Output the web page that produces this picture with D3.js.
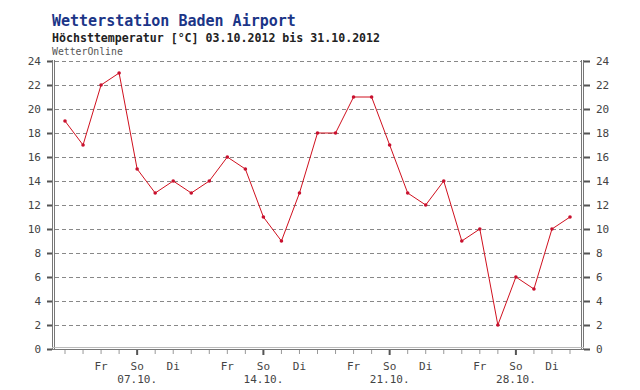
<!DOCTYPE html>
<html><head><meta charset="utf-8">
<script src="https://cdn.jsdelivr.net/npm/d3@7"></script>
<style>body{margin:0;background:#fff}svg{display:block}</style>
</head><body>
<svg id="c" width="640" height="390"></svg>
<script>
const days = ["03.10.","04.10.","05.10.","06.10.","07.10.","08.10.","09.10.","10.10.","11.10.","12.10.","13.10.","14.10.","15.10.","16.10.","17.10.","18.10.","19.10.","20.10.","21.10.","22.10.","23.10.","24.10.","25.10.","26.10.","27.10.","28.10.","29.10.","30.10.","31.10."];
const weekdays = ["Mi","Do","Fr","Sa","So","Mo","Di","Mi","Do","Fr","Sa","So","Mo","Di","Mi","Do","Fr","Sa","So","Mo","Di","Mi","Do","Fr","Sa","So","Mo","Di","Mi"];
const tmax = [19,17,22,23,15,13,14,13,14,16,15,11,9,13,18,18,21,21,17,13,12,14,9,10,2,6,5,10,11];
const yTicks = [0,2,4,6,8,10,12,14,16,18,20,22,24];
const shownWeekdays = ["Fr","So","Di"];

const svg = d3.select("#c");
const font = "'DejaVu Sans Mono', monospace";
const x = d3.scalePoint().domain(days).range([65, 570]);
const y = d3.scaleLinear().domain([0, 24]).range([349, 61]);
const L = 52, R = 584;

// title
svg.append("text").attr("x", 52).attr("y", 26).attr("font-family", font).attr("font-weight", "bold")
  .attr("font-size", 15).attr("fill", "#1b3587").text("Wetterstation Baden Airport");
svg.append("text").attr("x", 52).attr("y", 42).attr("font-family", font).attr("font-weight", "bold")
  .attr("font-size", 11.6).attr("fill", "#222").text("Höchsttemperatur [°C] 03.10.2012 bis 31.10.2012");
svg.append("text").attr("x", 52).attr("y", 55).attr("font-family", font)
  .attr("font-size", 9.8).attr("fill", "#555").text("WetterOnline");

// grid
svg.append("g").selectAll("line").data(yTicks.filter(d => d > 0)).join("line")
  .attr("x1", 55).attr("x2", 582).attr("y1", d => y(d) + 0.5).attr("y2", d => y(d) + 0.5)
  .attr("stroke", "#888").attr("stroke-dasharray", "4,3").attr("stroke-width", 1);

// axes frame
[L + 0.5, L + 2.5].forEach(xx => svg.append("line").attr("x1", xx).attr("x2", xx).attr("y1", 60).attr("y2", 350).attr("stroke", "#777"));
[R - 2.5, R - 0.5].forEach(xx => svg.append("line").attr("x1", xx).attr("x2", xx).attr("y1", 60).attr("y2", 350).attr("stroke", "#777"));
svg.append("line").attr("x1", L).attr("x2", R).attr("y1", 349.5).attr("y2", 349.5).attr("stroke", "#777");
svg.append("line").attr("x1", L).attr("x2", R).attr("y1", 347.5).attr("y2", 347.5).attr("stroke", "#bbb");

// y ticks + labels
const yt = svg.append("g");
yt.selectAll(".lt").data(yTicks).join("rect").attr("x", 47).attr("y", d => y(d) - 0.5).attr("width", 5).attr("height", 2).attr("fill", "#555");
yt.selectAll(".rt").data(yTicks).join("rect").attr("class","rt").attr("x", R).attr("y", d => y(d) - 0.5).attr("width", 6).attr("height", 2).attr("fill", "#555");
yt.selectAll(".ll").data(yTicks).join("text").attr("class","ll").attr("x", 41).attr("y", d => y(d) + 4)
  .attr("text-anchor", "end").attr("font-family", font).attr("font-size", 11).attr("fill", "#444").text(d => d);
yt.selectAll(".rl").data(yTicks).join("text").attr("class","rl").attr("x", 596).attr("y", d => y(d) + 4)
  .attr("text-anchor", "start").attr("font-family", font).attr("font-size", 11).attr("fill", "#444").text(d => d);

// x ticks
const xt = svg.append("g");
xt.selectAll("rect").data(days).join("rect")
  .attr("x", (d, i) => weekdays[i] === "So" ? x(d) - 1 : x(d) - 0.5)
  .attr("y", 350).attr("width", (d, i) => weekdays[i] === "So" ? 2 : 1)
  .attr("height", (d, i) => weekdays[i] === "So" ? 5 : 4)
  .attr("fill", (d, i) => weekdays[i] === "So" ? "#555" : "#999");
xt.selectAll(".wd").data(days.filter((d, i) => shownWeekdays.includes(weekdays[i]))).join("text").attr("class","wd")
  .attr("x", d => x(d)).attr("y", 370).attr("text-anchor", "middle").attr("font-family", font)
  .attr("font-size", 11).attr("fill", "#444").text(d => weekdays[days.indexOf(d)]);
xt.selectAll(".dt").data(days.filter((d, i) => weekdays[i] === "So")).join("text").attr("class","dt")
  .attr("x", d => x(d)).attr("y", 383).attr("text-anchor", "middle").attr("font-family", font)
  .attr("font-size", 11).attr("fill", "#444").text(d => d);

// line
const line = d3.line().x((d, i) => x(days[i])).y(d => y(d));
svg.append("path").datum(tmax).attr("d", line).attr("fill", "none").attr("stroke", "#d0101e").attr("stroke-width", 1);
svg.append("g").selectAll("circle").data(tmax).join("circle")
  .attr("cx", (d, i) => x(days[i])).attr("cy", d => y(d)).attr("r", 1.8).attr("fill", "#c8102e");
</script>
</body></html>
